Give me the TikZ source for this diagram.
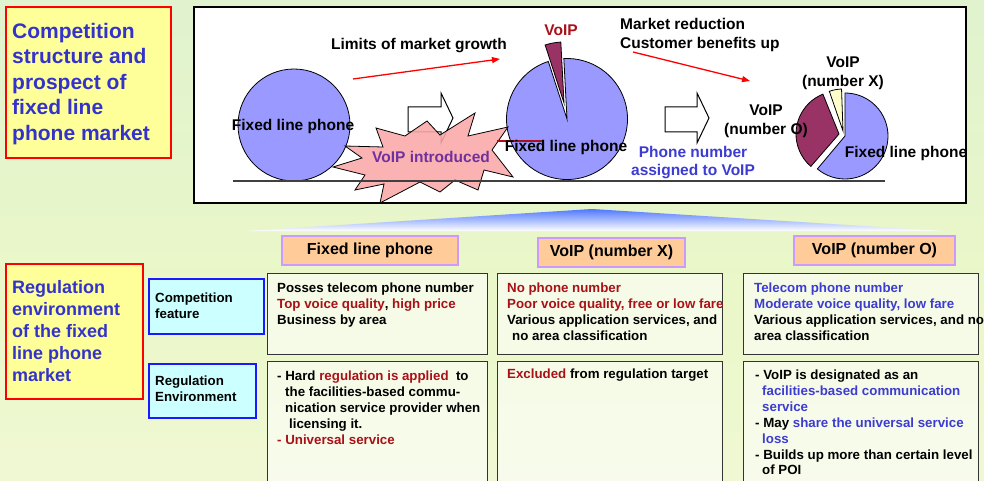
\documentclass[tikz,border=0pt]{standalone}
\usepackage{fontspec}
\setmainfont{Liberation Sans}
\usetikzlibrary{arrows.meta}
\definecolor{bgtop}{RGB}{200,234,214}
\definecolor{bgup}{RGB}{222,242,208}
\definecolor{bgmid}{RGB}{234,247,200}
\definecolor{bgbot}{RGB}{247,250,226}
\definecolor{titleyellow}{RGB}{255,255,153}
\definecolor{titleblue}{RGB}{51,51,204}
\definecolor{dred}{RGB}{170,16,24}
\definecolor{tblue}{RGB}{60,60,210}
\definecolor{pieblue}{RGB}{153,153,255}
\definecolor{piemaroon}{RGB}{153,51,102}
\definecolor{pieyellow}{RGB}{255,255,204}
\definecolor{starpink}{RGB}{250,168,168}
\definecolor{vipurple}{RGB}{112,48,160}
\definecolor{hdrfill}{RGB}{255,204,153}
\definecolor{hdrdraw}{RGB}{204,153,255}
\definecolor{rlfill}{RGB}{204,255,255}
\definecolor{rldraw}{RGB}{26,26,255}
\definecolor{funnel}{RGB}{80,120,255}
\pgfdeclareverticalshading{bgshade}{100bp}{color(0bp)=(bgbot); color(45bp)=(bgmid); color(82bp)=(bgup); color(100bp)=(bgtop)}
\begin{document}
\begin{tikzpicture}[x=1pt,y=-1pt,
  titlebox/.style={draw=red, line width=2pt, fill=titleyellow, anchor=north west, inner sep=0},
  ttltext/.style={anchor=base west, inner sep=0, text=titleblue},
  lbl/.style={inner sep=0, font=\bfseries\fontsize{15.5}{19}\selectfont},
  hdr/.style={draw=hdrdraw, fill=hdrfill, line width=1.8pt, inner sep=0, font=\bfseries\fontsize{16}{19}\selectfont},
  rowlbl/.style={draw=rldraw, fill=rlfill, line width=1.8pt, anchor=north west, inner sep=0},
  cbox/.style={draw=black!80, line width=1.4pt, fill=white, fill opacity=0.55, anchor=north west, inner sep=0},
  body/.style={anchor=base west, inner sep=0, font=\bfseries\fontsize{13.3}{15.9}\selectfont},
  redarrow/.style={draw=red, line width=1.3pt, -{Triangle[length=8pt,width=6pt]}},
  hollow/.style={draw=black, line width=1pt, fill=white},
  pie/.style={draw=black, line width=0.8pt}
]
\path[use as bounding box] (0,0) rectangle (984,481);
\clip (0,0) rectangle (984,481);
\shade[shading=bgshade] (0,0) rectangle (984,481);

% title boxes
\node[titlebox, minimum width=165pt, minimum height=151pt] (tb1) at (5,6) {};
\node[ttltext, font=\bfseries\fontsize{21}{25.5}\selectfont] (tt1) at (12,38.5)
  {\parbox[t]{160pt}{Competition\\structure and\\prospect of\\fixed line\\phone market}};
\node[titlebox, minimum width=137pt, minimum height=135pt] (tb2) at (5,263) {};
\node[ttltext, font=\bfseries\fontsize{18}{22}\selectfont] (tt2) at (12,293.5)
  {\parbox[t]{130pt}{Regulation\\environment\\of the fixed\\line phone\\market}};

% top box
\node[draw=black, line width=2.2pt, fill=white, anchor=north west, inner sep=0,
      minimum width=772pt, minimum height=196pt] (top) at (193,6) {};

% circle 1
\node[circle, pie, fill=pieblue, minimum size=112pt, inner sep=0] (c1) at (294,125) {};

% hollow arrow 1
\draw[hollow] (408,107) -- (441,107) -- (441,93) -- (453,118) -- (441,143) -- (441,132) -- (408,132) -- cycle;

% pie 2
\filldraw[pie, fill=pieblue] (567,119) -- ++(-108:60.5) arc[start angle=-108, end angle=-453, radius=60.5] -- cycle;
\filldraw[pie, fill=piemaroon] (564,103) -- ++(-93:61) arc[start angle=-93, end angle=-108, radius=61] -- cycle;

% starburst
\filldraw[draw=black, line width=0.8pt, fill=starpink, fill opacity=0.88]
  (333,167) -- (362,158) -- (345,146) -- (383,147) -- (376,128) -- (405,136) -- (427,121)
  -- (440,135) -- (475,113) -- (468,136) -- (508,127) -- (492,150) -- (513,177) -- (484,170)
  -- (478,190) -- (455,180) -- (440,192) -- (420,182) -- (380,203) -- (384,184) -- (355,190)
  -- (365,175) -- cycle;

% ground line
\draw[black!75, line width=1.5pt] (233,181) -- (885,181);
\draw[dred, line width=1.4pt] (497,141) -- (543,141);

% hollow arrow 2
\draw[hollow] (665,107) -- (697,107) -- (697,93) -- (709,118) -- (697,143) -- (697,132) -- (665,132) -- cycle;

% pie 3
\filldraw[pie, fill=pieblue] (845,136) -- ++(130:43) arc[start angle=130, end angle=-90, radius=43] -- cycle;
\filldraw[pie, fill=pieyellow] (843,131) -- ++(-92:42) arc[start angle=-92, end angle=-109, radius=42] -- cycle;
\filldraw[pie, fill=piemaroon] (839,134) -- ++(-112:43) arc[start angle=-112, end angle=-229, radius=43] -- cycle;

% red arrows
\coordinate (la1) at (353,79);
\coordinate (la2) at (500,59);
\draw[redarrow] (la1) -- (la2);
\coordinate (lb1) at (633,52);
\coordinate (lb2) at (750,81);
\draw[redarrow] (lb1) -- (lb2);

% top labels
\node[lbl, anchor=base] (lim) at (419,49.5) {Limits of market growth};
\node[lbl, anchor=base, text=dred] (vp) at (561,35.5) {VoIP};
\node[lbl, anchor=base west] (mr) at (620,29.5) {\parbox[t]{200pt}{Market reduction\\Customer benefits up}};
\node[lbl, anchor=base] (f1) at (293,130.5) {Fixed line phone};
\node[lbl, anchor=base, text=vipurple] (vi) at (431,162.5) {VoIP introduced};
\node[lbl, anchor=base] (f2) at (566,151.5) {Fixed line phone};
\node[lbl, anchor=base, text=tblue, font=\bfseries\fontsize{15.5}{18}\selectfont] (pn) at (693,157.5)
  {\parbox[t]{160pt}{\centering Phone number\\assigned to VoIP}};
\node[lbl, anchor=base] (vo) at (766,115.5) {\parbox[t]{120pt}{\centering VoIP\\(number O)}};
\node[lbl, anchor=base] (vx) at (843,67.5) {\parbox[t]{120pt}{\centering VoIP\\(number X)}};
\node[lbl, anchor=base] (f3) at (906,157.5) {Fixed line phone};

% funnel
\shade[top color=funnel, bottom color=white] (592,209) -- (944,231) -- (246,231) -- cycle;

% headers
\node[hdr, minimum width=176pt, minimum height=29pt] (h1) at (370,250.5) {Fixed line phone};
\node[hdr, minimum width=147pt, minimum height=29pt] (h2) at (611.5,252.5) {VoIP (number X)};
\node[hdr, minimum width=161pt, minimum height=29pt] (h3) at (874.5,250.5) {VoIP (number O)};

% row labels
\node[rowlbl, minimum width=115pt, minimum height=55pt] (rl1) at (148,278) {};
\node[body] (rl1t) at (155,302.5) {\parbox[t]{110pt}{Competition\\feature}};
\node[rowlbl, minimum width=107pt, minimum height=54pt] (rl2) at (148,363) {};
\node[body] (rl2t) at (155,385.5) {\parbox[t]{110pt}{Regulation\\Environment}};

% content boxes
\node[cbox, minimum width=220pt, minimum height=81pt] (b11) at (267,273) {};
\node[cbox, minimum width=225pt, minimum height=81pt] (b12) at (497,273) {};
\node[cbox, minimum width=235pt, minimum height=81pt] (b13) at (743,273) {};
\node[cbox, minimum width=220pt, minimum height=140pt] (b21) at (267,361) {};
\node[cbox, minimum width=225pt, minimum height=140pt] (b22) at (497,361) {};
\node[cbox, minimum width=235pt, minimum height=140pt] (b23) at (743,361) {};

% content texts
\node[body] (t11) at (277,292.5) {\parbox[t]{300pt}{Posses telecom phone number\\
  \textcolor{dred}{Top voice quality}, \textcolor{dred}{high price}\\
  Business by area}};
\node[body] (t21) at (277,380.5) {\parbox[t]{300pt}{- Hard \textcolor{dred}{regulation is applied}\ \ to\\
  \hspace*{8pt}the facilities-based commu-\\
  \hspace*{8pt}nication service provider when\\
  \hspace*{12pt}licensing it.\\
  \textcolor{dred}{- Universal service}}};
\node[body] (t12) at (507,292.5) {\parbox[t]{300pt}{\textcolor{dred}{No phone number}\\
  \textcolor{dred}{Poor voice quality, free or low fare}\\
  Various application services, and\\
  \hspace*{5pt}no area classification}};
\node[body] (t22) at (507,378.5) {\textcolor{dred}{Excluded} from regulation target};
\node[body] (t13) at (754,292.5) {\parbox[t]{300pt}{\textcolor{tblue}{Telecom phone number}\\
  \textcolor{tblue}{Moderate voice quality, low fare}\\
  Various application services, and no\\
  area classification}};
\node[body] (t23) at (755,379.5) {\parbox[t]{300pt}{- VoIP is designated as an\\
  \hspace*{7pt}\textcolor{tblue}{facilities-based communication}\\
  \hspace*{7pt}\textcolor{tblue}{service}\\
  - May \textcolor{tblue}{share the universal service}\\
  \hspace*{7pt}\textcolor{tblue}{loss}\\
  - Builds up more than certain level\\
  \hspace*{7pt}of POI}};
\end{tikzpicture}
\end{document}
